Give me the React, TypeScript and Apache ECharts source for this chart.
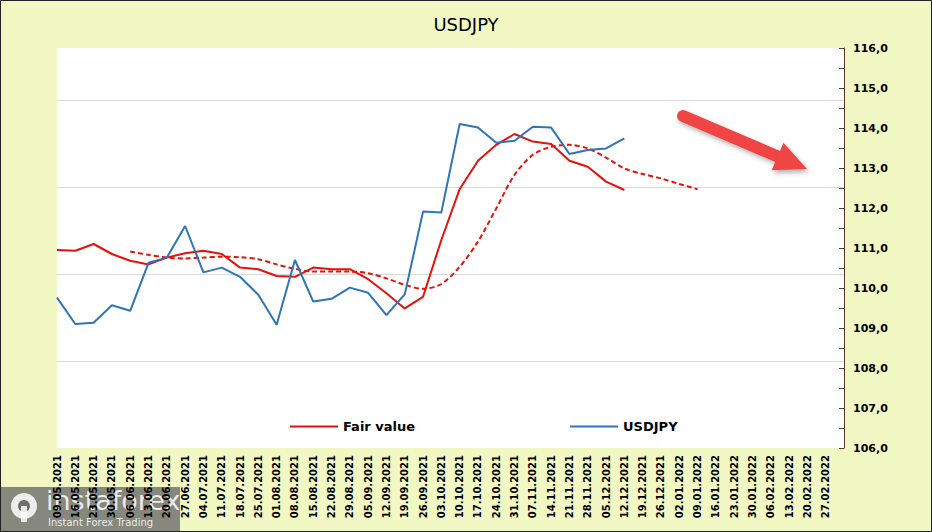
import React, { useEffect, useRef } from "react";
import * as echarts from "echarts";

const dates = [
  "09.05.2021", "16.05.2021", "23.05.2021", "30.05.2021", "06.06.2021", "13.06.2021", "20.06.2021",
  "27.06.2021", "04.07.2021", "11.07.2021", "18.07.2021", "25.07.2021", "01.08.2021", "08.08.2021",
  "15.08.2021", "22.08.2021", "29.08.2021", "05.09.2021", "12.09.2021", "19.09.2021", "26.09.2021",
  "03.10.2021", "10.10.2021", "17.10.2021", "24.10.2021", "31.10.2021", "07.11.2021", "14.11.2021",
  "21.11.2021", "28.11.2021", "05.12.2021", "12.12.2021", "19.12.2021", "26.12.2021", "02.01.2022",
  "09.01.2022", "16.01.2022", "23.01.2022", "30.01.2022", "06.02.2022", "13.02.2022", "20.02.2022",
  "27.02.2022",
];

const usdjpy = [
  109.76, 109.1, 109.13, 109.57, 109.43, 110.63, 110.76, 111.55, 110.39, 110.51, 110.28, 109.83,
  109.08, 110.7, 109.66, 109.73, 110.01, 109.88, 109.32, 109.84, 111.91, 111.89, 114.1, 114.01,
  113.63, 113.68, 114.03, 114.01, 113.35, 113.45, 113.49, 113.74,
];

const fairValue = [
  110.95, 110.93, 111.1, 110.85, 110.68, 110.59, 110.76, 110.87, 110.93, 110.85, 110.51, 110.47,
  110.3, 110.28, 110.51, 110.47, 110.47, 110.22, 109.87, 109.49, 109.78, 111.2, 112.47, 113.18,
  113.58, 113.85, 113.66, 113.6, 113.18, 113.03, 112.66, 112.45,
];

// dashed forecast line starts at week index 4 (06.06.2021)
const forecastStart = 4;
const fairForecast = [
  110.91, 110.83, 110.76, 110.74, 110.76, 110.78, 110.77, 110.72, 110.59, 110.48, 110.41, 110.41,
  110.41, 110.37, 110.24, 110.08, 109.98, 110.1, 110.53, 111.16, 111.99, 112.83, 113.33, 113.53,
  113.58, 113.49, 113.26, 112.99, 112.85, 112.74, 112.6, 112.47,
];

const yMin = 106;
const yMax = 116;

export default function App() {
  const ref = useRef<HTMLDivElement>(null);

  useEffect(() => {
    document.body.style.margin = "0";
    if (!ref.current) return;
    const chart = echarts.init(ref.current, undefined, { renderer: "svg" });
    const font = "DejaVu Sans";
    const toPairs = (arr: number[], off = 0) => arr.map((v, i) => [i + off, v]);

    const dir = [124, 53];
    const len = Math.hypot(dir[0], dir[1]);
    const ux = dir[0] / len, uy = dir[1] / len;
    const tip = [807, 169];
    const base = [tip[0] - 32 * ux, tip[1] - 32 * uy];
    const hw = 15;

    chart.setOption({
      animation: false,
      backgroundColor: "#f2f8c4",
      title: {
        text: "USDJPY",
        left: "center",
        top: 10,
        textStyle: { fontFamily: font, fontSize: 18, fontWeight: "normal", color: "#000" },
      },
      grid: {
        left: 57,
        right: 88,
        top: 48,
        bottom: 84,
        show: true,
        backgroundColor: "#ffffff",
        borderWidth: 0,
      },
      legend: {
        data: ["Fair value", "USDJPY"],
        left: 285,
        top: 415,
        icon: "rect",
        itemWidth: 48,
        itemHeight: 2,
        itemGap: 155,
        textStyle: { fontFamily: font, fontSize: 13, fontWeight: "bold", color: "#000" },
      },
      xAxis: {
        type: "value",
        min: 0,
        max: dates.length,
        interval: 1,
        axisLine: { show: false, onZero: false },
        axisTick: { show: false },
        splitLine: { show: false },
        axisLabel: {
          rotate: 90,
          margin: 7,
          fontFamily: font,
          fontSize: 10,
          fontWeight: "bold",
          color: "#000",
          formatter: (v: number) => dates[v] ?? "",
        },
      },
      yAxis: [
        {
          type: "value",
          position: "right",
          min: yMin,
          max: yMax,
          interval: 0.5,
          axisLine: { show: true, onZero: false, lineStyle: { color: "#5b3a2e", width: 1 } },
          axisTick: { show: true, inside: true, length: 5, lineStyle: { color: "#5b3a2e" } },
          splitLine: { show: false },
          axisLabel: {
            margin: 9,
            fontFamily: font,
            fontSize: 11,
            fontWeight: "bold",
            color: "#000",
            formatter: (v: number) =>
              Number.isInteger(Math.round(v * 1000) / 1000) ? v.toFixed(1).replace(".", ",") : "",
          },
        },
        {
          type: "value",
          position: "left",
          min: 0,
          max: 4.6,
          interval: 1,
          axisLine: { show: false, onZero: false },
          axisTick: { show: false },
          minorTick: { show: false },
          axisLabel: { show: false },
          splitLine: {
            show: true,
            lineStyle: {
              color: ["transparent", "#d9d9d9", "#d9d9d9", "#d9d9d9", "#d9d9d9", "transparent"],
              width: 1,
            },
          },
        },
      ],
      series: [
        {
          name: "Fair value",
          type: "line",
          data: toPairs(fairValue),
          symbol: "none",
          lineStyle: { color: "#e3120b", width: 2 },
          itemStyle: { color: "#e3120b" },
          z: 3,
        },
        {
          name: "Fair value forecast",
          type: "line",
          data: toPairs(fairForecast, forecastStart),
          symbol: "none",
          smooth: 0.3,
          lineStyle: { color: "#e3120b", width: 2, type: [5, 3] },
          itemStyle: { color: "#e3120b" },
          z: 2,
        },
        {
          name: "USDJPY",
          type: "line",
          data: toPairs(usdjpy),
          symbol: "none",
          lineStyle: { color: "#2e75b6", width: 2 },
          itemStyle: { color: "#2e75b6" },
          z: 4,
        },
      ],
      graphic: [
        {
          type: "group",
          z: 100,
          children: [
            {
              type: "line",
              shape: { x1: 683, y1: 116, x2: base[0] + 4 * ux, y2: base[1] + 4 * uy },
              style: {
                stroke: "#ef4545",
                lineWidth: 12,
                lineCap: "round",
                shadowBlur: 5,
                shadowColor: "rgba(0,0,0,0.3)",
                shadowOffsetX: 2,
                shadowOffsetY: 3,
              },
            },
            {
              type: "polygon",
              shape: {
                points: [
                  tip,
                  [base[0] - hw * uy, base[1] + hw * ux],
                  [base[0] + hw * uy, base[1] - hw * ux],
                ],
              },
              style: {
                fill: "#ef4545",
                shadowBlur: 5,
                shadowColor: "rgba(0,0,0,0.3)",
                shadowOffsetX: 2,
                shadowOffsetY: 3,
              },
            },
          ],
        },
        {
          type: "group",
          z: 100,
          children: [
            {
              type: "rect",
              shape: { x: 0, y: 487, width: 180, height: 45 },
              style: { fill: "rgba(110,110,110,0.82)" },
            },
            {
              type: "circle",
              shape: { cx: 24, cy: 506, r: 13 },
              style: { fill: "rgba(255,255,255,0.85)" },
            },
            {
              type: "circle",
              shape: { cx: 24, cy: 506, r: 6 },
              style: { fill: "rgba(110,110,110,1)" },
            },
            {
              type: "rect",
              shape: { x: 21, y: 506, width: 6, height: 16 },
              style: { fill: "rgba(255,255,255,0.85)" },
            },
            {
              type: "text",
              style: {
                x: 46,
                y: 487,
                text: "instaforex",
                fontFamily: font,
                fontSize: 27,
                fill: "rgba(255,255,255,0.85)",
              },
            },
            {
              type: "text",
              style: {
                x: 48,
                y: 517,
                text: "Instant Forex Trading",
                fontFamily: font,
                fontSize: 10,
                fill: "rgba(255,255,255,0.85)",
              },
            },
          ],
        },
        {
          type: "rect",
          z: 101,
          silent: true,
          shape: { x: 0.5, y: 0.5, width: 931, height: 531 },
          style: { fill: "none", stroke: "#222", lineWidth: 1 },
        },
      ],
    });

    return () => chart.dispose();
  }, []);

  return <div ref={ref} style={{ width: 932, height: 532 }} />;
}
